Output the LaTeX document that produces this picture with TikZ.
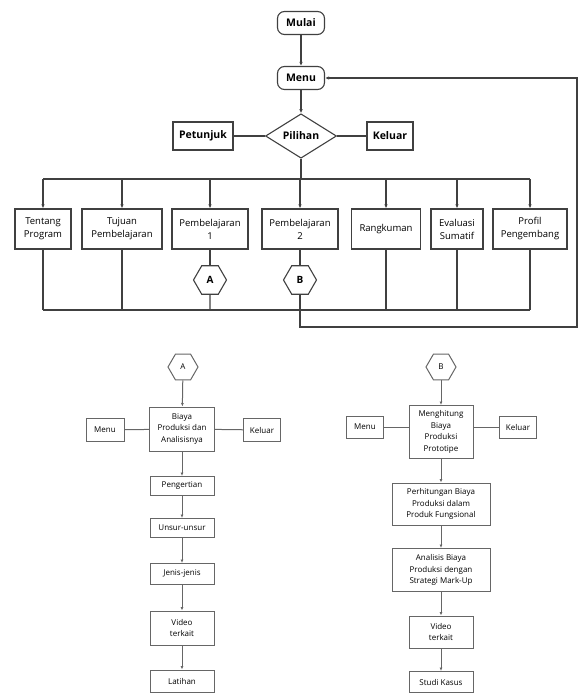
\documentclass[tikz,border=0pt]{standalone}
\usepackage{fontspec}
\setmainfont{Open Sans}
\usetikzlibrary{arrows.meta,shapes.geometric}
\begin{document}
\begin{tikzpicture}[x=1pt,y=-1pt,
  line/.style={draw=black!75, line width=1.1pt},
  arr/.style={line, -{Latex[length=4pt,width=3.5pt]}},
  term/.style={draw=black!75, line width=1.1pt, rounded corners=7pt, minimum width=47pt, minimum height=23pt, inner sep=0pt, font=\fontsize{10.5}{12}\selectfont\bfseries},
  topbox/.style={draw=black!75, line width=1.3pt, minimum height=28pt, inner sep=0pt, font=\fontsize{10.5}{12}\selectfont\bfseries},
  rowbox/.style={draw=black!75, line width=1.3pt, minimum height=40pt, inner sep=0pt, align=center, font=\fontsize{9.5}{13}\selectfont},
  hex/.style={draw=black!75, line width=1.1pt, regular polygon, regular polygon sides=6, minimum size=33pt, inner sep=0pt, font=\fontsize{10}{12}\selectfont\bfseries},
  sbox/.style={draw=black!60, line width=1pt, inner sep=0pt, align=center, font=\fontsize{8}{11.5}\selectfont},
  sarr/.style={draw=black!60, line width=1pt, -{Latex[length=3.5pt,width=3pt]}},
  sline/.style={draw=black!60, line width=1pt},
]
\useasboundingbox (0,0) rectangle (583,695);
% top part
\node[term] (mulai) at (301,23) {Mulai};
\node[term] (menu) at (301,78) {Menu};
\node[draw=black!75, line width=1.1pt, diamond, minimum width=71pt, minimum height=31pt, inner sep=0pt, font=\fontsize{10.5}{12}\selectfont\bfseries] (pil) at (301,136) {Pilihan};
\node[topbox, minimum width=60pt] (pet) at (203,136) {Petunjuk};
\node[topbox, minimum width=46pt] (kel) at (390,136) {Keluar};
\draw[arr] (mulai) -- (menu);
\draw[arr] (menu) -- (pil);
\draw[line] (pet) -- (pil);
\draw[line] (pil) -- (kel);

\node[rowbox, minimum width=56pt] (t1) at (43,229) {Tentang\\Program};
\node[rowbox, minimum width=80pt] (t2) at (122,229) {Tujuan\\Pembelajaran};
\node[rowbox, minimum width=76pt] (t3) at (210,229) {Pembelajaran\\1};
\node[rowbox, minimum width=76pt] (t4) at (300,229) {Pembelajaran\\2};
\node[rowbox, minimum width=69pt] (t5) at (386,229) {Rangkuman};
\node[rowbox, minimum width=52pt] (t6) at (457,229) {Evaluasi\\Sumatif};
\node[rowbox, minimum width=74pt] (t7) at (530,229) {Profil\\Pengembang};
\node[hex] (A) at (210,280) {A};
\node[hex] (B) at (300,280) {B};

\coordinate (bus) at (301,179);
\coordinate (bot) at (0,310);
\coordinate (loop) at (577,327);
\draw[line] (t1 |- bus) -- (t7 |- bus);
\draw[line] (pil.south) -- (pil |- bus);
\foreach \n in {t1,t2,t3,t4,t5,t6,t7} \draw[arr] (\n |- bus) -- (\n.north);
\draw[line] (t3) -- (A);
\draw[line] (t4) -- (B);
\draw[line] (t1 |- bot) -- (t7 |- bot);
\foreach \n in {t1,t2,A,t5,t6,t7} \draw[line] (\n.south) -- (\n |- bot);
\draw[arr] (B.south) |- (loop) -- (loop |- menu) -- (menu.east);

% bottom left
\node[hex, minimum size=30pt, draw=black!60, line width=1pt, font=\fontsize{8}{10}\selectfont] (A2) at (183,367) {A};
\node[sbox, minimum width=65pt, minimum height=44pt] (ba) at (182,429) {Biaya\\Produksi dan\\Analisisnya};
\node[sbox, minimum width=38pt, minimum height=23pt] (m1) at (105,430) {Menu};
\node[sbox, minimum width=37pt, minimum height=23pt] (k1) at (262,430) {Keluar};
\node[sbox, minimum width=64pt, minimum height=19pt] (p1) at (182,486) {Pengertian};
\node[sbox, minimum width=64pt, minimum height=19pt] (u1) at (182,528) {Unsur-unsur};
\node[sbox, minimum width=64pt, minimum height=21pt] (j1) at (182,574) {Jenis-jenis};
\node[sbox, minimum width=64pt, minimum height=34pt] (v1) at (182,628) {Video\\terkait};
\node[sbox, minimum width=64pt, minimum height=22pt] (l1) at (182,681) {Latihan};
\draw[sarr] (A2) -- (ba);
\draw[sline] (m1) -- (ba);
\draw[sline] (ba) -- (k1);
\draw[sarr] (ba) -- (p1);
\draw[sarr] (p1) -- (u1);
\draw[sarr] (u1) -- (j1);
\draw[sarr] (j1) -- (v1);
\draw[sarr] (v1) -- (l1);

% bottom right
\node[hex, minimum size=30pt, draw=black!60, line width=1pt, font=\fontsize{8}{10}\selectfont] (B2) at (441,367) {B};
\node[sbox, minimum width=64pt, minimum height=53pt] (mb) at (441,432) {Menghitung\\Biaya\\Produksi\\Prototipe};
\node[sbox, minimum width=37pt, minimum height=22pt] (m2) at (365,427) {Menu};
\node[sbox, minimum width=37pt, minimum height=22pt] (k2) at (518,427) {Keluar};
\node[sbox, minimum width=98pt, minimum height=42pt] (pb) at (441,504) {Perhitungan Biaya\\Produksi dalam\\Produk Fungsional};
\node[sbox, minimum width=98pt, minimum height=43pt] (ab) at (441,570) {Analisis Biaya\\Produksi dengan\\Strategi Mark-Up};
\node[sbox, minimum width=64pt, minimum height=32pt] (v2) at (441,632) {Video\\terkait};
\node[sbox, minimum width=64pt, minimum height=21pt] (s2) at (441,682) {Studi Kasus};
\draw[sarr] (B2) -- (mb);
\draw[sline] (m2) -- (m2 -| mb.west);
\draw[sline] (k2) -- (k2 -| mb.east);
\draw[sarr] (mb) -- (pb);
\draw[sarr] (pb) -- (ab);
\draw[sarr] (ab) -- (v2);
\draw[sarr] (v2) -- (s2);
\end{tikzpicture}
\end{document}
